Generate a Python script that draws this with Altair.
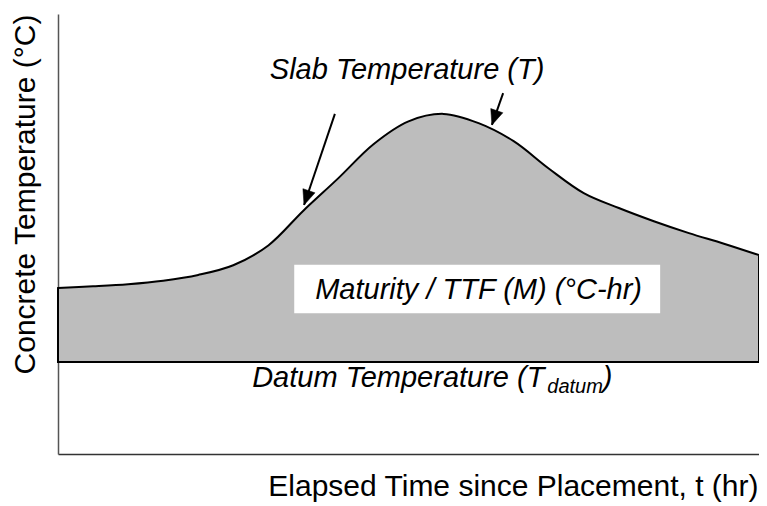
import altair as alt
import pandas as pd

# ---- data (arbitrary units) ----
time_hr = [0, 5, 10, 15, 20, 25, 30, 35, 40, 45, 50, 55, 60, 65, 70, 75, 80, 85, 90, 95, 100]
slab_temp = [37.7, 38.1, 38.6, 39.4, 40.7, 42.9, 47.4, 55.3, 62.7, 70.4, 75.6, 77.3, 75.2,
             71.1, 64.9, 59.3, 55.9, 52.9, 50.2, 47.8, 45.2]
datum_temp = 20.9

x_title = "Elapsed Time since Placement, t (hr)"
y_title = "Concrete Temperature (°C)"

# annotation texts
slab_label = "Slab Temperature (T)"
maturity_label = "Maturity / TTF (M) (°C-hr)"
datum_label = "Datum Temperature (T"
datum_sub = "datum"
datum_close = ")"

# annotation anchor positions (data units)
label_t = [49.8, 60.0, 27.7, 69.8, 77.7]
label_T = [85.2, 35.2, 15.2, 13.9, 15.2]
label_size = [29, 29, 29, 20, 29]
label_align = ["center", "center", "left", "left", "left"]

box_t = [33.7, 85.9]
box_T = [32.0, 43.0]

arrow_t0 = [39.5, 63.5]
arrow_T0 = [77.3, 82.0]
arrow_t1 = [35.1, 61.9]
arrow_T1 = [56.6, 74.8]
arrow_angle = [19, 19]

FONT = "Liberation Sans"

curve = pd.DataFrame({"t": time_hr, "T": slab_temp, "datum": [datum_temp] * len(time_hr)})

xs = alt.Scale(domain=[0, 100], nice=False, zero=False)
ys = alt.Scale(domain=[0, 100], nice=False, zero=False)

area = alt.Chart(curve).mark_area(
    fill="#bdbdbd", stroke="black", strokeWidth=2, interpolate="catmull-rom"
).encode(
    x=alt.X("t:Q", scale=xs, axis=alt.Axis(
        title=x_title, ticks=False, labels=False, grid=False,
        domainColor="#333333", domainWidth=1.5,
        titleFont=FONT, titleFontSize=30, titleFontWeight="normal", titleColor="black",
        titleAlign="right", titleBaseline="alphabetic", titleX=700, titleY=41)),
    y=alt.Y("T:Q", scale=ys, axis=alt.Axis(
        title=y_title, ticks=False, labels=False, grid=False,
        domainColor="#555555", domainWidth=1.5,
        titleFont=FONT, titleFontSize=30, titleFontWeight="normal", titleColor="black",
        titleAngle=270, titleAlign="center", titleBaseline="alphabetic",
        titleX=-24, titleY=180)),
    y2="datum:Q",
)

box_df = pd.DataFrame({"t0": [box_t[0]], "t1": [box_t[1]], "T0": [box_T[0]], "T1": [box_T[1]]})
box = alt.Chart(box_df).mark_rect(fill="white").encode(
    x=alt.X("t0:Q", scale=xs), x2="t1:Q", y=alt.Y("T0:Q", scale=ys), y2="T1:Q"
)

labels_df = pd.DataFrame({
    "text": [slab_label, maturity_label, datum_label, datum_sub, datum_close],
    "t": label_t, "T": label_T, "size": label_size, "align": label_align,
})

def text_layer(i):
    row = labels_df.iloc[[i]]
    return alt.Chart(row).mark_text(
        font=FONT, fontStyle="italic", fontSize=int(label_size[i]), align=label_align[i],
        baseline="alphabetic", color="black"
    ).encode(x=alt.X("t:Q", scale=xs), y=alt.Y("T:Q", scale=ys), text="text:N")

texts = [text_layer(i) for i in range(len(labels_df))]

arrows_df = pd.DataFrame({"t0": arrow_t0, "T0": arrow_T0, "t1": arrow_t1, "T1": arrow_T1,
                          "ang": arrow_angle})
shafts = alt.Chart(arrows_df).mark_rule(color="black", strokeWidth=2).encode(
    x=alt.X("t0:Q", scale=xs), y=alt.Y("T0:Q", scale=ys), x2="t1:Q", y2="T1:Q"
)
heads = alt.Chart(arrows_df).mark_point(
    shape="M0,0L-0.85,-2L0.85,-2Z", filled=True, fill="black", stroke="black",
    strokeWidth=0.5, size=225, opacity=1
).encode(
    x=alt.X("t1:Q", scale=xs), y=alt.Y("T1:Q", scale=ys),
    angle=alt.Angle("ang:Q", scale=None)
)

chart = alt.layer(area, box, *texts, shafts, heads).properties(
    width=701, height=440,
    padding={"left": 50, "top": 6, "right": 0, "bottom": 48},
    autosize=alt.AutoSizeParams(type="none"),
    background="white",
).configure_view(stroke=None)

chart.save("out.html", embed_options={"renderer": "svg", "actions": False})
